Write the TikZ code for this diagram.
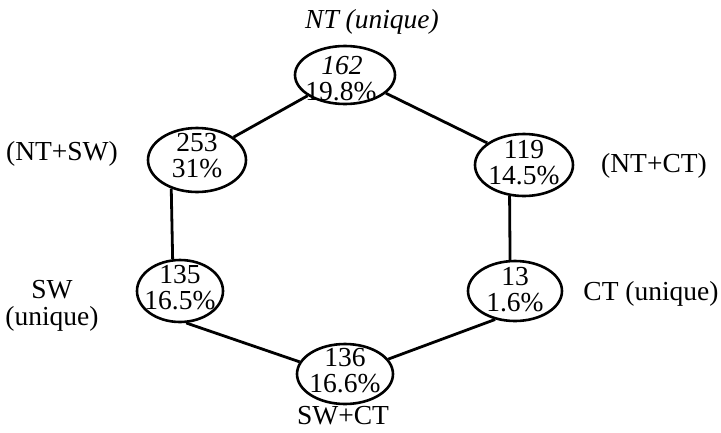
\documentclass[tikz,border=0pt]{standalone}
\usepackage{fontspec}
\setmainfont{Liberation Serif}
\usetikzlibrary{shapes.geometric}
\newcommand{\twoline}[3][6pt]{\smash{\raisebox{-#1}{\makebox[0pt]{\begin{tabular}{@{}c@{}}#2\\#3\end{tabular}}}}}
\tikzset{
  blob/.style={ellipse, draw, line width=2.6pt, inner sep=0pt},
  link/.style={line width=2.8pt},
  lab/.style={inner sep=0pt, align=center},
}
\begin{document}
\begin{tikzpicture}[x=1pt,y=-1pt,font=\fontsize{27.5}{23}\selectfont]
\useasboundingbox (0,0) rectangle (721,432);
\node[blob, minimum width=100pt, minimum height=58pt] (top) at (345,75) {\twoline[13pt]{\hspace*{-6pt}\textit{162}}{\hspace*{-8pt}19.8\%}};
\node[blob, minimum width=98pt, minimum height=64pt] (ul) at (197,160) {\twoline[5pt]{253}{31\%}};
\node[blob, minimum width=98pt, minimum height=62pt] (ur) at (524,165) {\twoline[7pt]{119}{14.5\%}};
\node[blob, minimum width=86pt, minimum height=62pt] (ll) at (180,291) {\twoline[6pt]{135}{16.5\%}};
\node[blob, minimum width=94pt, minimum height=60pt] (lr) at (515,291) {\twoline[8pt]{13}{1.6\%}};
\node[blob, minimum width=96pt, minimum height=60pt] (bot) at (345,374) {\twoline[6pt]{136}{16.6\%}};

\draw[link] (top.209) -- (ul.32);
\draw[link] (top.336) -- (ur.149);
\draw[link] (ul.228) -- (ll.103);
\draw[link] (ur.245) -- (lr.99);
\draw[link] (ll.281) -- (bot.165);
\draw[link] (lr.235) -- (bot.19);

\node[lab] (lnt) at (372,22) {\textit{NT (unique)}};
\node[lab] (lntsw) at (62,154) {(NT+SW)};
\node[lab] (lntct) at (654,166) {(NT+CT)};
\node[lab] (lsw) at (52,306) {SW\\[4pt](unique)};
\node[lab] (lct) at (651,294) {CT (unique)};
\node[lab] (lswct) at (343,416) {SW+CT};
\end{tikzpicture}
\end{document}
